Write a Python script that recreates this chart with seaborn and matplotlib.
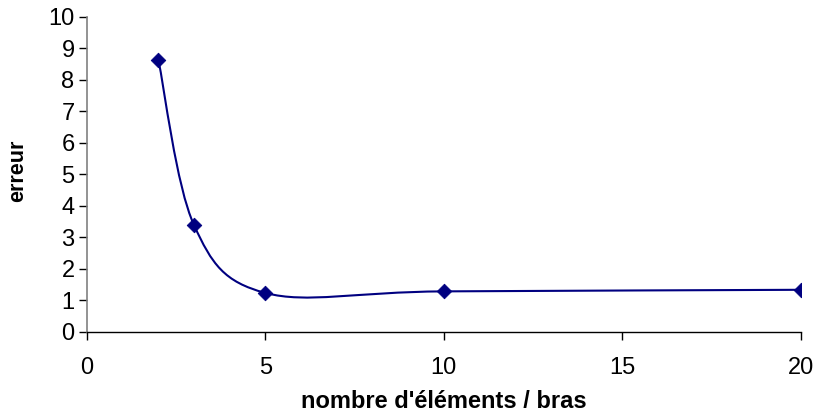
import numpy as np
import pandas as pd
import seaborn as sns
import matplotlib.pyplot as plt
from matplotlib.path import Path
from matplotlib.patches import PathPatch

# data
elements = [2, 3, 5, 10, 20]
erreur = [8.63, 3.38, 1.23, 1.28, 1.33]

x_ticks = [0, 5, 10, 15, 20]
y_ticks = list(range(0, 11))

navy = '#000080'

sns.set_style("white")
plt.rcParams['font.family'] = ['Liberation Sans', 'DejaVu Sans']

fig = plt.figure(figsize=(8.17, 4.18), dpi=100)
ax = fig.add_axes([0.1065, 0.2065, 0.8735, 0.7535])

df = pd.DataFrame({'x': elements, 'y': erreur})

# smoothed line (Excel-style Catmull-Rom Bezier through the points)
pts = df[['x', 'y']].to_numpy(dtype=float)
verts = [pts[0]]
codes = [Path.MOVETO]
n = len(pts)
for i in range(n - 1):
    p0 = pts[i - 1] if i > 0 else pts[i]
    p1 = pts[i]
    p2 = pts[i + 1]
    p3 = pts[i + 2] if i + 2 < n else pts[i + 1]
    c1 = p1 + (p2 - p0) / 6.0
    c2 = p2 - (p3 - p1) / 6.0
    verts += [c1, c2, p2]
    codes += [Path.CURVE4] * 3
ax.add_patch(PathPatch(Path(verts, codes), facecolor='none', edgecolor=navy, lw=1.5, zorder=2))

sns.scatterplot(data=df, x='x', y='y', marker='D', s=55, color=navy, edgecolor=navy, ax=ax, zorder=3)

ax.set_xlim(0, 20)
ax.set_ylim(0, 10)
ax.set_xticks(x_ticks)
ax.set_yticks(y_ticks)
ax.tick_params(axis='both', labelsize=17, length=6, width=1, direction='out',
               left=True, bottom=True, colors='black')
ax.tick_params(axis='x', pad=12)
ax.tick_params(axis='y', pad=3)

sns.despine(ax=ax)
ax.spines['left'].set_color('#808080')
ax.spines['left'].set_linewidth(1.2)
ax.spines['bottom'].set_color('black')
ax.spines['bottom'].set_linewidth(1)

ax.set_xlabel("nombre d'éléments / bras", fontsize=17, fontweight='bold', color='black')
ax.set_ylabel("erreur", fontsize=15.5, fontweight='bold', color='black')
ax.xaxis.set_label_coords(0.5, -0.185)
ax.yaxis.set_label_coords(-0.083, 0.51)

fig.savefig('out.png', dpi=100)
